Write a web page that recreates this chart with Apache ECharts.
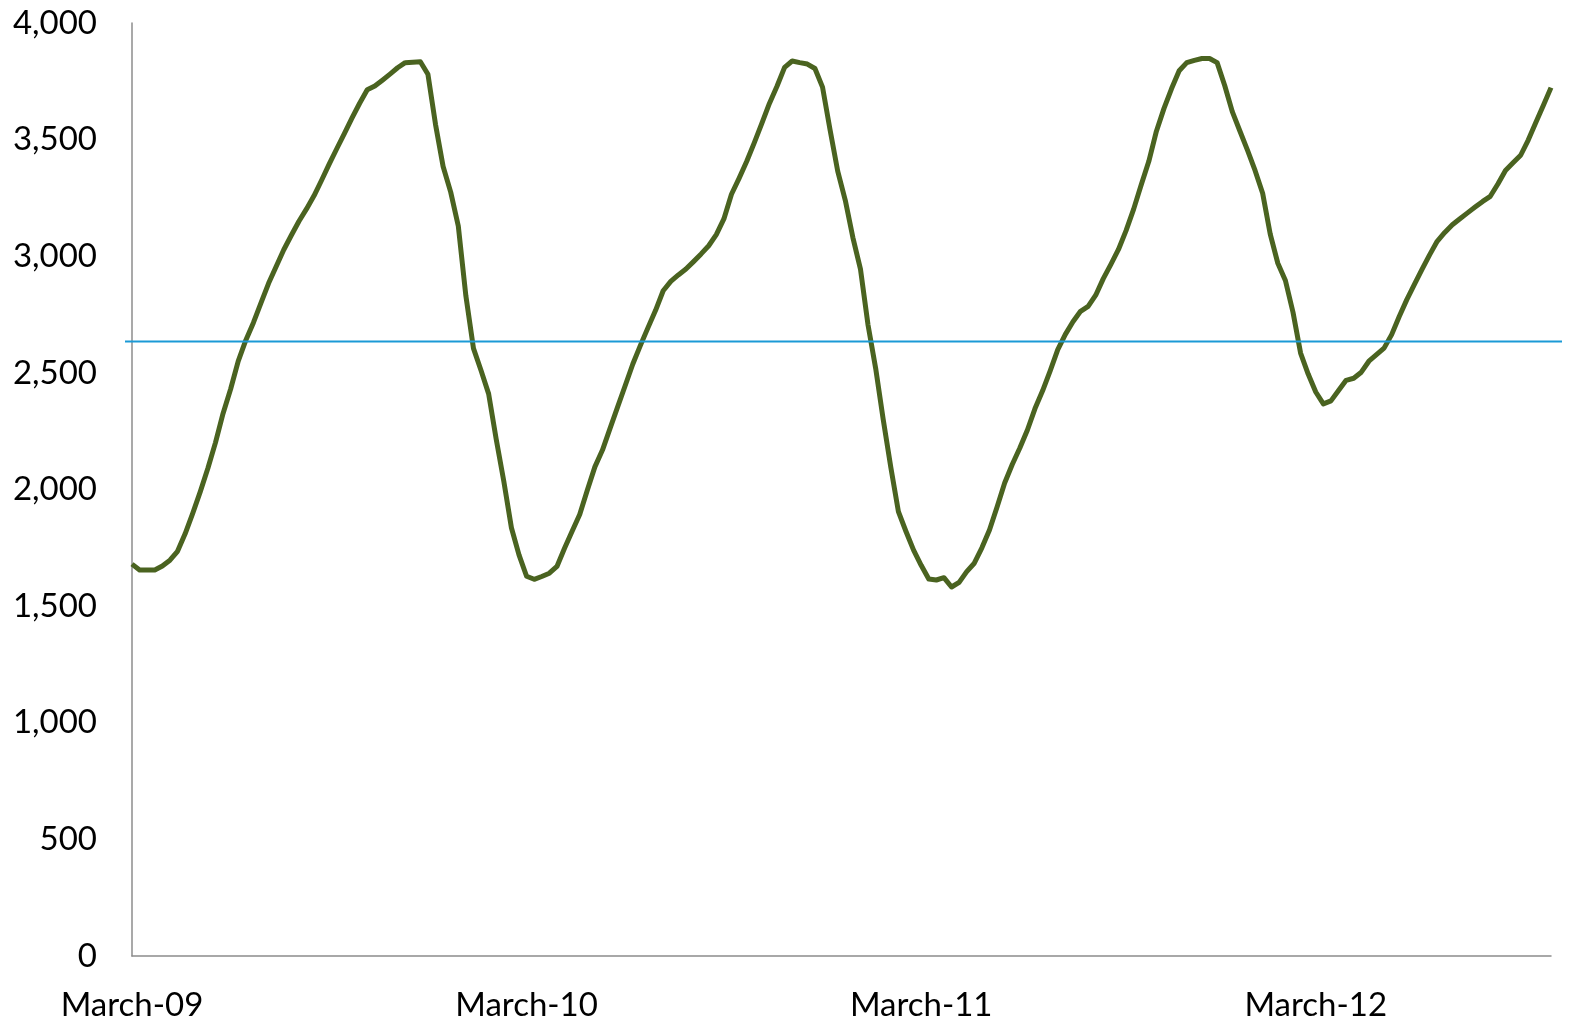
<!DOCTYPE html>
<html>
<head>
<meta charset="utf-8">
<script src="https://cdn.jsdelivr.net/npm/echarts@6/dist/echarts.min.js"></script>
<style>
  html, body { margin: 0; padding: 0; background: #fff; }
  #main { width: 1573px; height: 1023px; }
</style>
</head>
<body>
<div id="main"></div>
<script>
var myChart = echarts.init(document.getElementById('main'));

// x axis: weekly points, a label at the start of each year
var yearLabels = ['March-09', 'March-10', 'March-11', 'March-12'];
var weeksPerYear = 52;

// weekly values
var values = [
  1680, 1655, 1655, 1655, 1672, 1697, 1735, 1810, 1898, 1991,
  2091, 2201, 2326, 2431, 2550, 2640, 2715, 2800, 2884, 2956,
  3028, 3090, 3150, 3203, 3260, 3327, 3396, 3462, 3527, 3593,
  3656, 3714, 3730, 3755, 3781, 3808, 3830, 3832, 3834, 3780,
  3565, 3385, 3275, 3130, 2830, 2605, 2510, 2410, 2215, 2035,
  1836, 1720, 1628, 1615, 1627, 1641, 1670, 1748, 1821, 1893,
  1997, 2097, 2169, 2262, 2354, 2446, 2538, 2618, 2694, 2768,
  2852, 2892, 2920, 2945, 2977, 3010, 3045, 3093, 3160, 3266,
  3334, 3406, 3486, 3570, 3655, 3729, 3810, 3837, 3830, 3824,
  3805, 3725, 3541, 3365, 3240, 3080, 2945, 2705, 2520, 2300,
  2095, 1905, 1820, 1740, 1675, 1616, 1612, 1622, 1582, 1602,
  1648, 1684, 1750, 1826, 1925, 2028, 2107, 2178, 2255, 2347,
  2423, 2509, 2600, 2665, 2719, 2764, 2785, 2833, 2904, 2965,
  3029, 3110, 3202, 3307, 3407, 3536, 3634, 3719, 3795, 3830,
  3840, 3848, 3848, 3830, 3732, 3620, 3537, 3455, 3368, 3270,
  3095, 2970, 2896, 2760, 2585, 2495, 2418, 2367, 2380, 2424,
  2468, 2477, 2503, 2550, 2578, 2606, 2664, 2742, 2814, 2879,
  2944, 3006, 3064, 3102, 3135, 3161, 3186, 3211, 3235, 3257,
  3310, 3368, 3401, 3433, 3498, 3573, 3647, 3723
];

// horizontal reference level (average)
var average = [2635, 2635];

var categories = values.map(function (v, i) { return 'w' + i; });

var option = {
  backgroundColor: '#ffffff',
  textStyle: { fontFamily: 'Lato' },
  grid: [
    { left: 132, right: 22, top: 23, bottom: 67 },
    { left: 125, right: 11, top: 23, bottom: 67 }   // reference line runs a little past the axes
  ],
  xAxis: [{
    type: 'category',
    gridIndex: 0,
    data: categories,
    boundaryGap: false,
    axisLine: { lineStyle: { color: '#8c8c8c', width: 1.5 } },
    axisTick: { show: false },
    axisLabel: {
      interval: function (idx) { return idx % weeksPerYear === 0; },
      formatter: function (val, idx) { return yearLabels[idx / weeksPerYear]; },
      fontSize: 33,
      color: '#000',
      margin: 33
    },
    splitLine: { show: false }
  }, {
    type: 'category',
    gridIndex: 1,
    data: ['a', 'b'],
    boundaryGap: false,
    show: false
  }],
  yAxis: [{
    type: 'value',
    gridIndex: 0,
    min: 0,
    max: 4000,
    interval: 500,
    axisLine: { show: true, lineStyle: { color: '#8c8c8c', width: 1.5 } },
    axisTick: { show: false },
    splitLine: { show: false },
    axisLabel: {
      fontSize: 33,
      color: '#000',
      margin: 35,
      formatter: function (v) { return v.toLocaleString('en-US'); }
    }
  }, {
    type: 'value',
    gridIndex: 1,
    min: 0,
    max: 4000,
    show: false
  }],
  series: [{
    type: 'line',
    xAxisIndex: 0,
    yAxisIndex: 0,
    data: values,
    symbol: 'none',
    lineStyle: { color: '#4a6320', width: 5, join: 'round' },
    z: 2
  }, {
    type: 'line',
    xAxisIndex: 1,
    yAxisIndex: 1,
    data: average,
    symbol: 'none',
    lineStyle: { color: '#1b9ad6', width: 2 },
    z: 3
  }],
  animation: false
};

myChart.setOption(option);
</script>
</body>
</html>
